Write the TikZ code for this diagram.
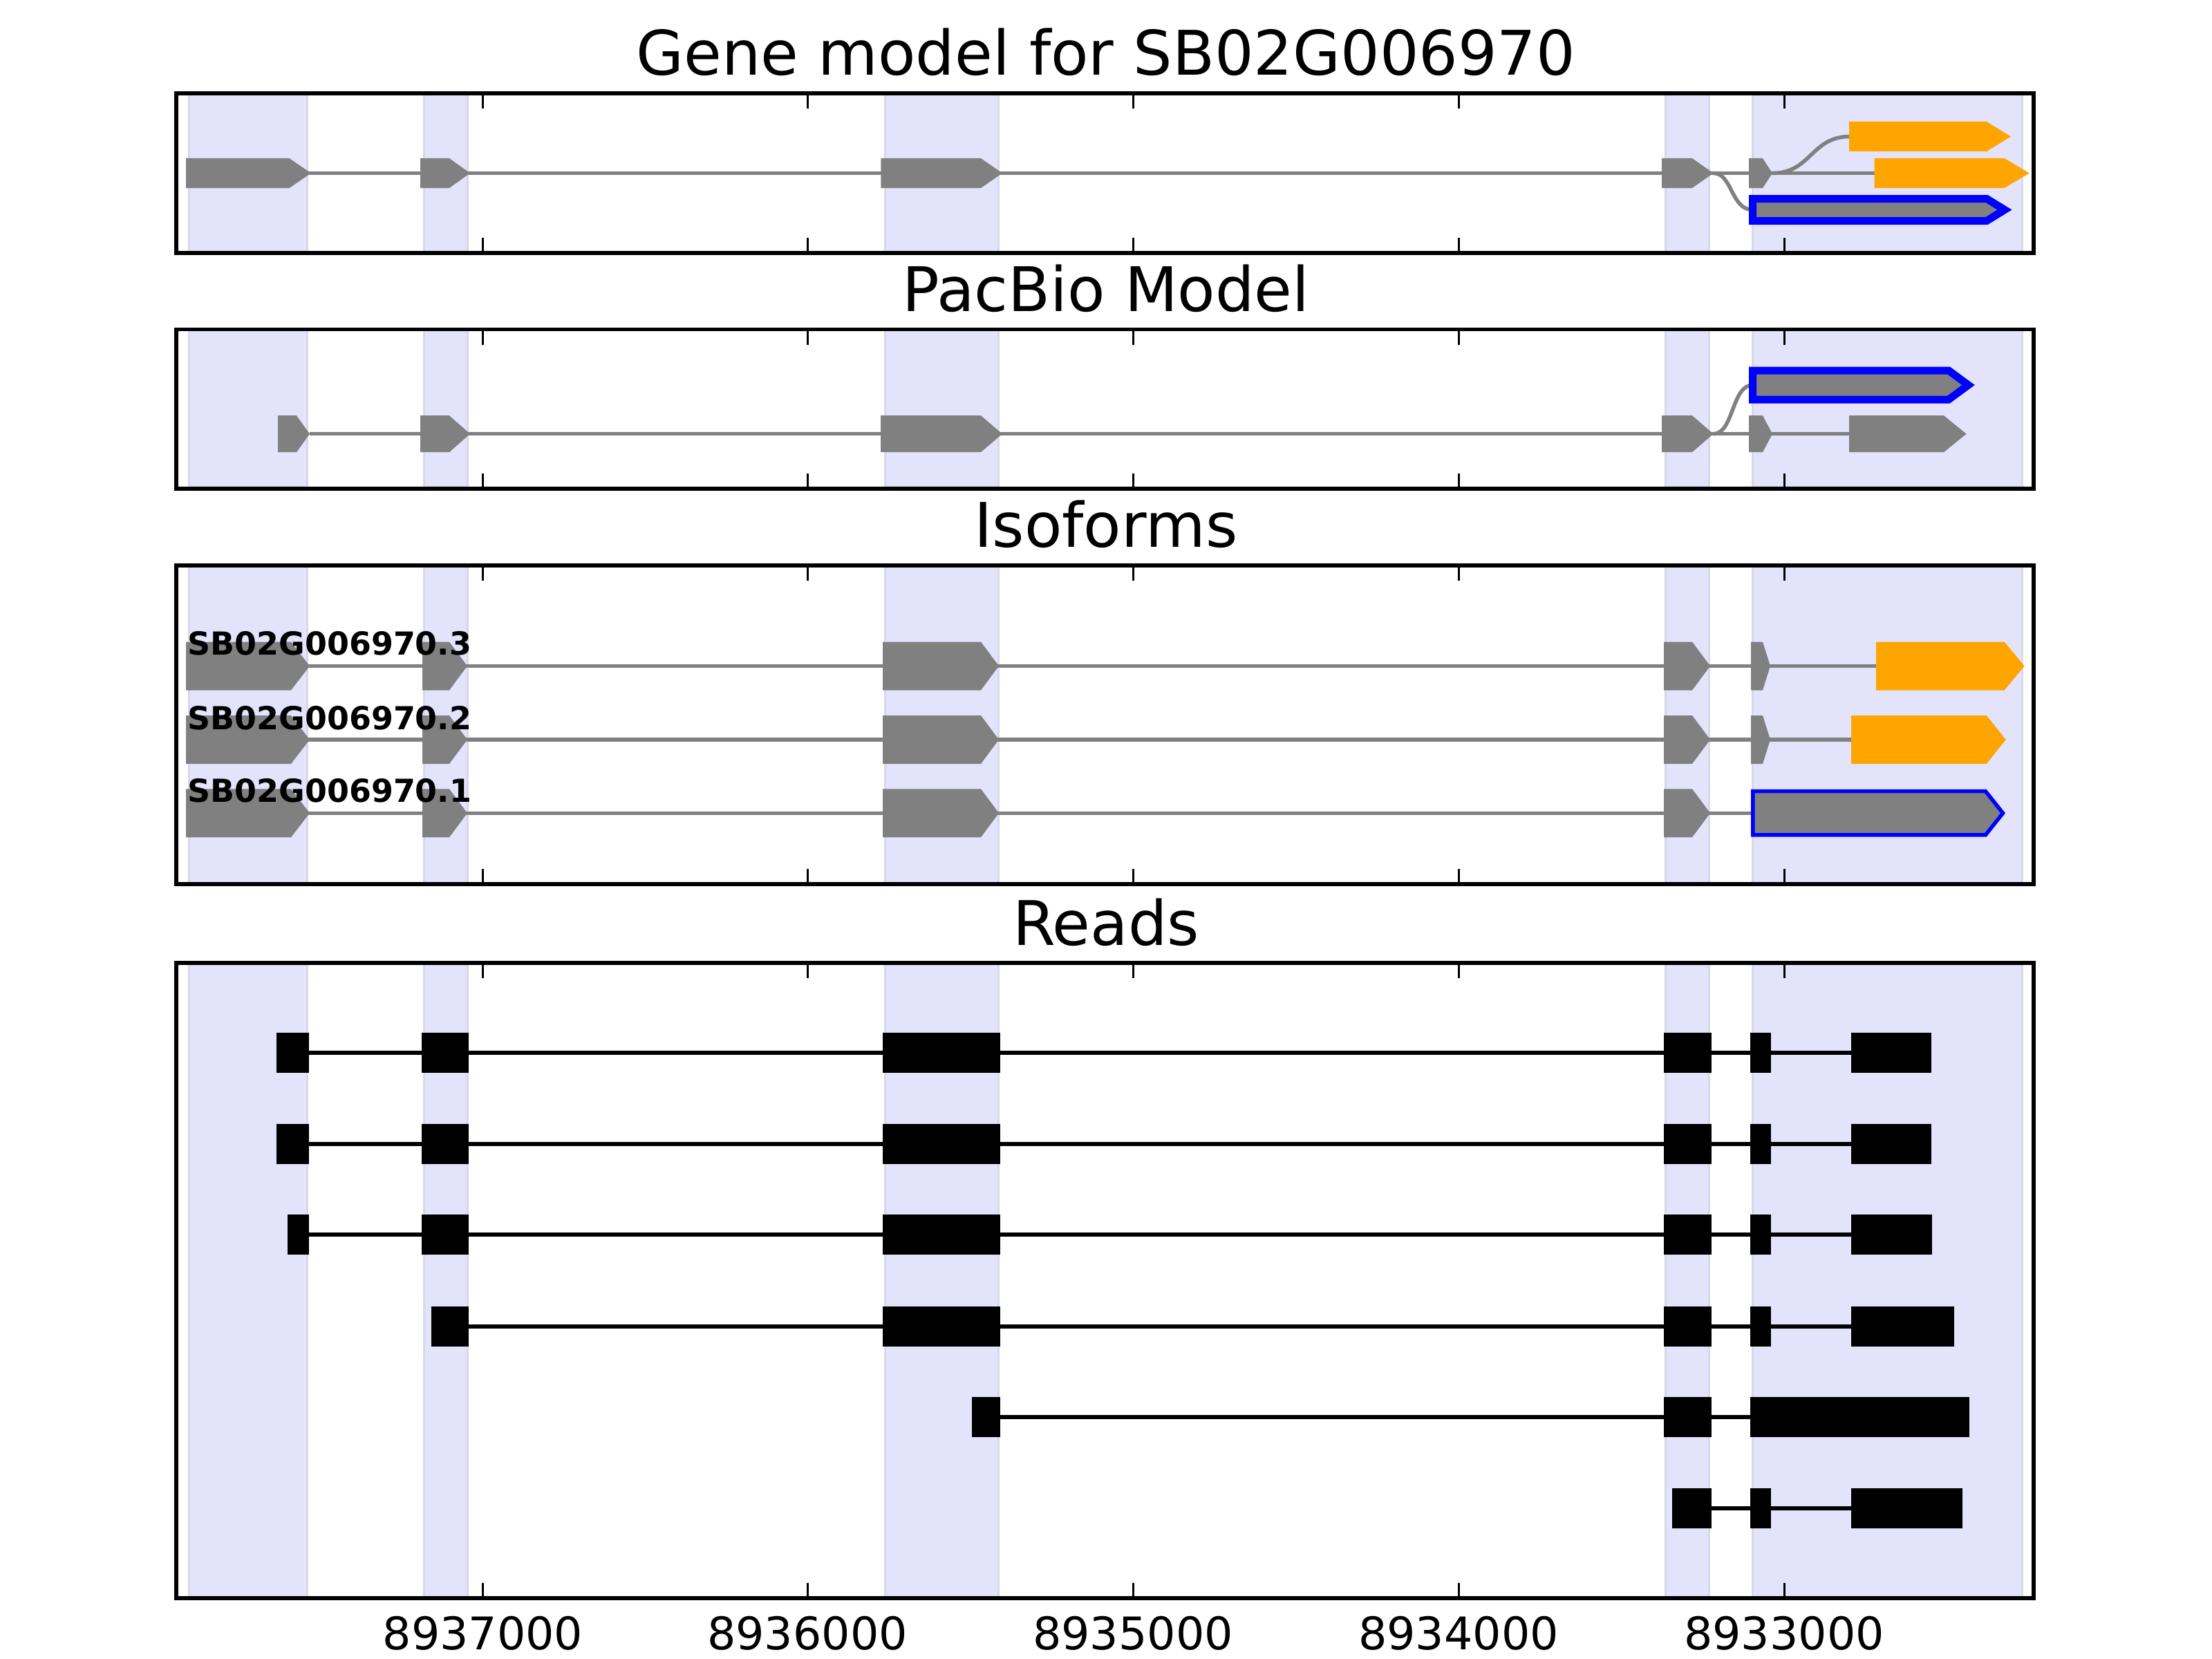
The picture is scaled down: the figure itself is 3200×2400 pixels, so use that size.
\documentclass[tikz,border=0pt]{standalone}
\usepackage{fontspec}
\setmainfont{DejaVu Sans}
\newlength{\pxu}
\setlength{\pxu}{0.01cm}
\definecolor{band}{RGB}{227,227,252}
\definecolor{bandedge}{RGB}{216,216,234}
\definecolor{exgray}{RGB}{128,128,128}
\definecolor{orng}{RGB}{255,165,0}
\newcommand{\gexon}[6]{\path[#1] (#2,{#5-#6}) -- (#3,{#5-#6}) -- (#4,#5) -- (#3,{#5+#6}) -- (#2,{#5+#6}) -- cycle;}
\newcommand{\rbox}[3]{\fill[black] (#1,{#3-29}) rectangle (#2,{#3+29});}
\newcommand{\bandset}[2]{%
  \foreach \a/\b in {273.5/444.5, 613/676, 1280/1444.5, 2409/2472.5, 2535.5/2925.5} {
    \fill[band] (\a,#1) rectangle (\b,#2);
    \draw[bandedge, line width=3\pxu] (\a,#1) -- (\a,#2) (\b,#1) -- (\b,#2);
  }}
\newcommand{\frameticks}[2]{%
  \foreach \t in {698.5,1168,1639,2110,2581} {
    \draw[line width=3\pxu] (\t,#1) -- ++(0,22) (\t,#2) -- ++(0,-22);
  }
  \draw[line width=5.5\pxu] (255,#1) rectangle (2942,#2);}
\tikzset{
  intron/.style={exgray, line width=5.5\pxu},
  gfill/.style={fill=exgray},
  ofill/.style={fill=orng},
  bluebox/.style={fill=exgray, draw=blue, line join=miter, miter limit=10},
  readline/.style={black, line width=6\pxu},
  ttl/.style={anchor=base, font=\fontsize{25.3}{30}\selectfont},
  tlab/.style={anchor=base, font=\fontsize{18.5}{22}\selectfont},
  isolab/.style={anchor=base west, inner sep=0pt, font=\bfseries\fontsize{13.05}{15}\selectfont}
}
\begin{document}
\begin{tikzpicture}[x=0.01cm,y=-0.01cm]
\useasboundingbox (0,0) rectangle (3200,2400);
\fill[white] (0,0) rectangle (3200,2400);

% ---------- Panel 1: Gene model ----------
\node[ttl] (t1) at (1600,109) {Gene model for SB02G006970};
\bandset{135}{366}
\draw[intron] (269,250.5) -- (2712,250.5);
\draw[intron] (2478.6,250.5) .. controls (2506,250.5) and (2504,303.5) .. (2535.5,303.5);
\draw[intron] (2564,250.5) .. controls (2620,250.5) and (2620,197.5) .. (2676,197.5);
\gexon{gfill}{269}{418.6}{450}{250.5}{21.5}
\gexon{gfill}{608}{650}{680}{250.5}{21.5}
\gexon{gfill}{1274.3}{1419}{1450}{250.5}{21.5}
\gexon{gfill}{2404}{2448}{2478.6}{250.5}{21.5}
\gexon{gfill}{2530}{2550}{2564}{250.5}{21.5}
\gexon{ofill}{2675}{2874}{2909}{197.5}{21.5}
\gexon{ofill}{2711.6}{2899.6}{2935.7}{250.5}{21.5}
\gexon{bluebox, line width=11\pxu}{2535.5}{2874}{2900}{303.5}{16}
\frameticks{135}{366}

% ---------- Panel 2: PacBio ----------
\node[ttl] (t2) at (1600,450) {PacBio Model};
\bandset{476.5}{707}
\draw[intron] (448,627.7) -- (2676,627.7);
\draw[intron] (2478.6,627.7) .. controls (2508,627.7) and (2505,557) .. (2535.5,557);
\gexon{gfill}{402}{429}{448}{627.7}{26.5}
\gexon{gfill}{608}{650}{680}{627.7}{26.5}
\gexon{gfill}{1274}{1419}{1450}{627.7}{26.5}
\gexon{gfill}{2404}{2448}{2478.6}{627.7}{26.5}
\gexon{gfill}{2530}{2550}{2564}{627.7}{26.5}
\gexon{gfill}{2675}{2812}{2844.6}{627.7}{26.5}
\gexon{bluebox, line width=11\pxu}{2535.5}{2819}{2847.5}{557}{21}
\frameticks{476.5}{707}

% ---------- Panel 3: Isoforms ----------
\node[ttl] (t3) at (1600,791) {Isoforms};
\bandset{818}{1279}
% row 1 (.3)
\draw[intron] (269,963.5) -- (2719,963.5);
\gexon{gfill}{269}{421}{448}{963.5}{35}
\gexon{gfill}{611}{650}{676}{963.5}{35}
\gexon{gfill}{1277}{1419}{1445}{963.5}{35}
\gexon{gfill}{2407}{2448}{2474}{963.5}{35}
\gexon{gfill}{2533}{2550}{2561}{963.5}{35}
\gexon{ofill}{2714}{2899.6}{2928.6}{963.5}{35}
% row 2 (.2)
\draw[intron] (269,1070) -- (2681,1070);
\gexon{gfill}{269}{421}{448}{1070}{35}
\gexon{gfill}{611}{650}{676}{1070}{35}
\gexon{gfill}{1277}{1419}{1445}{1070}{35}
\gexon{gfill}{2407}{2448}{2474}{1070}{35}
\gexon{gfill}{2533}{2550}{2561}{1070}{35}
\gexon{ofill}{2678}{2873.7}{2901.8}{1070}{35}
% row 3 (.1)
\draw[intron] (269,1176.3) -- (2536,1176.3);
\gexon{gfill}{269}{421}{448}{1176.3}{35}
\gexon{gfill}{611}{650}{676}{1176.3}{35}
\gexon{gfill}{1277}{1419}{1445}{1176.3}{35}
\gexon{gfill}{2407}{2448}{2474}{1176.3}{35}
\gexon{bluebox, line width=5.5\pxu}{2535.8}{2872.4}{2897.5}{1176.3}{31.6}
\node[isolab] (l3) at (271,947) {SB02G006970.3};
\node[isolab] (l2) at (271,1055) {SB02G006970.2};
\node[isolab] (l1) at (271,1160.7) {SB02G006970.1};
\frameticks{818}{1279}

% ---------- Panel 4: Reads ----------
\node[ttl] (t4) at (1600,1367) {Reads};
\bandset{1393}{2312}
% read 1
\draw[readline] (400.3,1523) -- (2793.5,1523);
\rbox{400.3}{446.7}{1523}\rbox{610.3}{677.7}{1523}\rbox{1277.3}{1446.7}{1523}
\rbox{2407}{2475.6}{1523}\rbox{2532}{2561.8}{1523}\rbox{2677.5}{2793.5}{1523}
% read 2
\draw[readline] (400.3,1654.5) -- (2793.5,1654.5);
\rbox{400.3}{446.7}{1654.5}\rbox{610.3}{677.7}{1654.5}\rbox{1277.3}{1446.7}{1654.5}
\rbox{2407}{2475.6}{1654.5}\rbox{2532}{2561.8}{1654.5}\rbox{2677.5}{2793.5}{1654.5}
% read 3
\draw[readline] (416,1786) -- (2794.5,1786);
\rbox{416}{446.7}{1786}\rbox{610.3}{677.7}{1786}\rbox{1277.3}{1446.7}{1786}
\rbox{2407}{2475.6}{1786}\rbox{2532}{2561.8}{1786}\rbox{2677.5}{2794.5}{1786}
% read 4
\draw[readline] (624.3,1918.5) -- (2827,1918.5);
\rbox{624.3}{677.7}{1918.5}\rbox{1277.3}{1446.7}{1918.5}
\rbox{2407}{2475.6}{1918.5}\rbox{2532}{2561.8}{1918.5}\rbox{2677.5}{2827}{1918.5}
% read 5
\draw[readline] (1406,2050) -- (2849,2050);
\rbox{1406}{1446.7}{2050}\rbox{2407}{2475.6}{2050}\rbox{2532}{2849}{2050}
% read 6
\draw[readline] (2419,2181.7) -- (2839,2181.7);
\rbox{2419}{2475.6}{2181.7}\rbox{2532}{2561.8}{2181.7}\rbox{2677.5}{2839}{2181.7}
\frameticks{1393}{2312}

% tick labels
\node[tlab] (x1) at (698.5,2386) {8937000};
\node[tlab] (x2) at (1168,2386) {8936000};
\node[tlab] (x3) at (1639,2386) {8935000};
\node[tlab] (x4) at (2110,2386) {8934000};
\node[tlab] (x5) at (2581,2386) {8933000};
\end{tikzpicture}
\end{document}
